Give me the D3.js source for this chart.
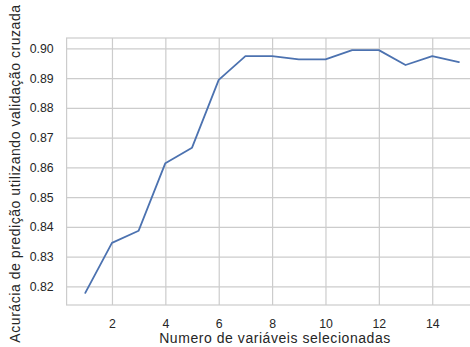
<!DOCTYPE html>
<html>
<head>
<meta charset="utf-8">
<script src="https://cdn.jsdelivr.net/npm/d3@7"></script>
<style>
  html, body { margin: 0; padding: 0; background: #ffffff; }
  svg { display: block; }
  text { font-family: "Liberation Sans", Arial, sans-serif; fill: #262626; }
</style>
</head>
<body>
<svg id="chart" width="470" height="347"></svg>
<script>
// Number of selected features vs. cross-validated accuracy
const nFeatures = [1, 2, 3, 4, 5, 6, 7, 8, 9, 10, 11, 12, 13, 14, 15];
const accuracy = [0.8178, 0.8346, 0.8387, 0.8614, 0.8666, 0.8894, 0.8974, 0.8974,
                  0.8963, 0.8963, 0.8994, 0.8994, 0.8944, 0.8974, 0.8954];
const xTicks = [2, 4, 6, 8, 10, 12, 14];
const yTicks = [0.82, 0.83, 0.84, 0.85, 0.86, 0.87, 0.88, 0.89, 0.90];
const xLabel = "Numero de variáveis selecionadas";
const yLabel = "Acurácia de predição utilizando validação cruzada";

const svg = d3.select("#chart");
const plot = { left: 66.6, top: 38, right: 477.6, bottom: 305 };

// 5% padding on both axes
const xExt = d3.extent(nFeatures), yExt = d3.extent(accuracy);
const xPad = (xExt[1] - xExt[0]) * 0.05, yPad = (yExt[1] - yExt[0]) * 0.05;
const x = d3.scaleLinear().domain([xExt[0] - xPad, xExt[1] + xPad]).range([plot.left, plot.right]);
const y = d3.scaleLinear().domain([yExt[0] - yPad, yExt[1] + yPad]).range([plot.bottom, plot.top]);

const gridColor = "#cccccc";

// Grid lines + tick labels via axes
const xAxis = svg.append("g")
  .attr("transform", `translate(0,${plot.bottom})`)
  .call(d3.axisBottom(x).tickValues(xTicks).tickFormat(d3.format("d"))
        .tickSize(-(plot.bottom - plot.top)).tickPadding(14));
const yAxis = svg.append("g")
  .attr("transform", `translate(${plot.left},0)`)
  .call(d3.axisLeft(y).tickValues(yTicks).tickFormat(d3.format(".2f"))
        .tickSize(-(plot.right - plot.left)).tickPadding(13));

[xAxis, yAxis].forEach(g => {
  g.select(".domain").remove();
  g.selectAll(".tick line").attr("stroke", gridColor).attr("stroke-width", 1.2);
  g.selectAll(".tick text").attr("font-size", 12.3).attr("fill", "#262626")
    .style("font-family", '"Liberation Sans", Arial, sans-serif');
});

// Frame (spines)
svg.append("rect")
  .attr("x", plot.left).attr("y", plot.top)
  .attr("width", plot.right - plot.left).attr("height", plot.bottom - plot.top)
  .attr("fill", "none").attr("stroke", gridColor).attr("stroke-width", 1.2);

// Accuracy line
const line = d3.line().x((d, i) => x(nFeatures[i])).y(d => y(d));
svg.append("path")
  .datum(accuracy)
  .attr("d", line)
  .attr("fill", "none")
  .attr("stroke", "#4c72b0")
  .attr("stroke-width", 1.8)
  .attr("stroke-linejoin", "round")
  .attr("stroke-linecap", "round");

// Axis titles
svg.append("text")
  .attr("x", 275).attr("y", 343)
  .attr("text-anchor", "middle").attr("font-size", 14)
  .attr("letter-spacing", 0.55)
  .text(xLabel);
svg.append("text")
  .attr("transform", `translate(20,173.5) rotate(-90)`)
  .attr("text-anchor", "middle").attr("font-size", 14)
  .attr("letter-spacing", 0.55)
  .text(yLabel);
</script>
</body>
</html>
